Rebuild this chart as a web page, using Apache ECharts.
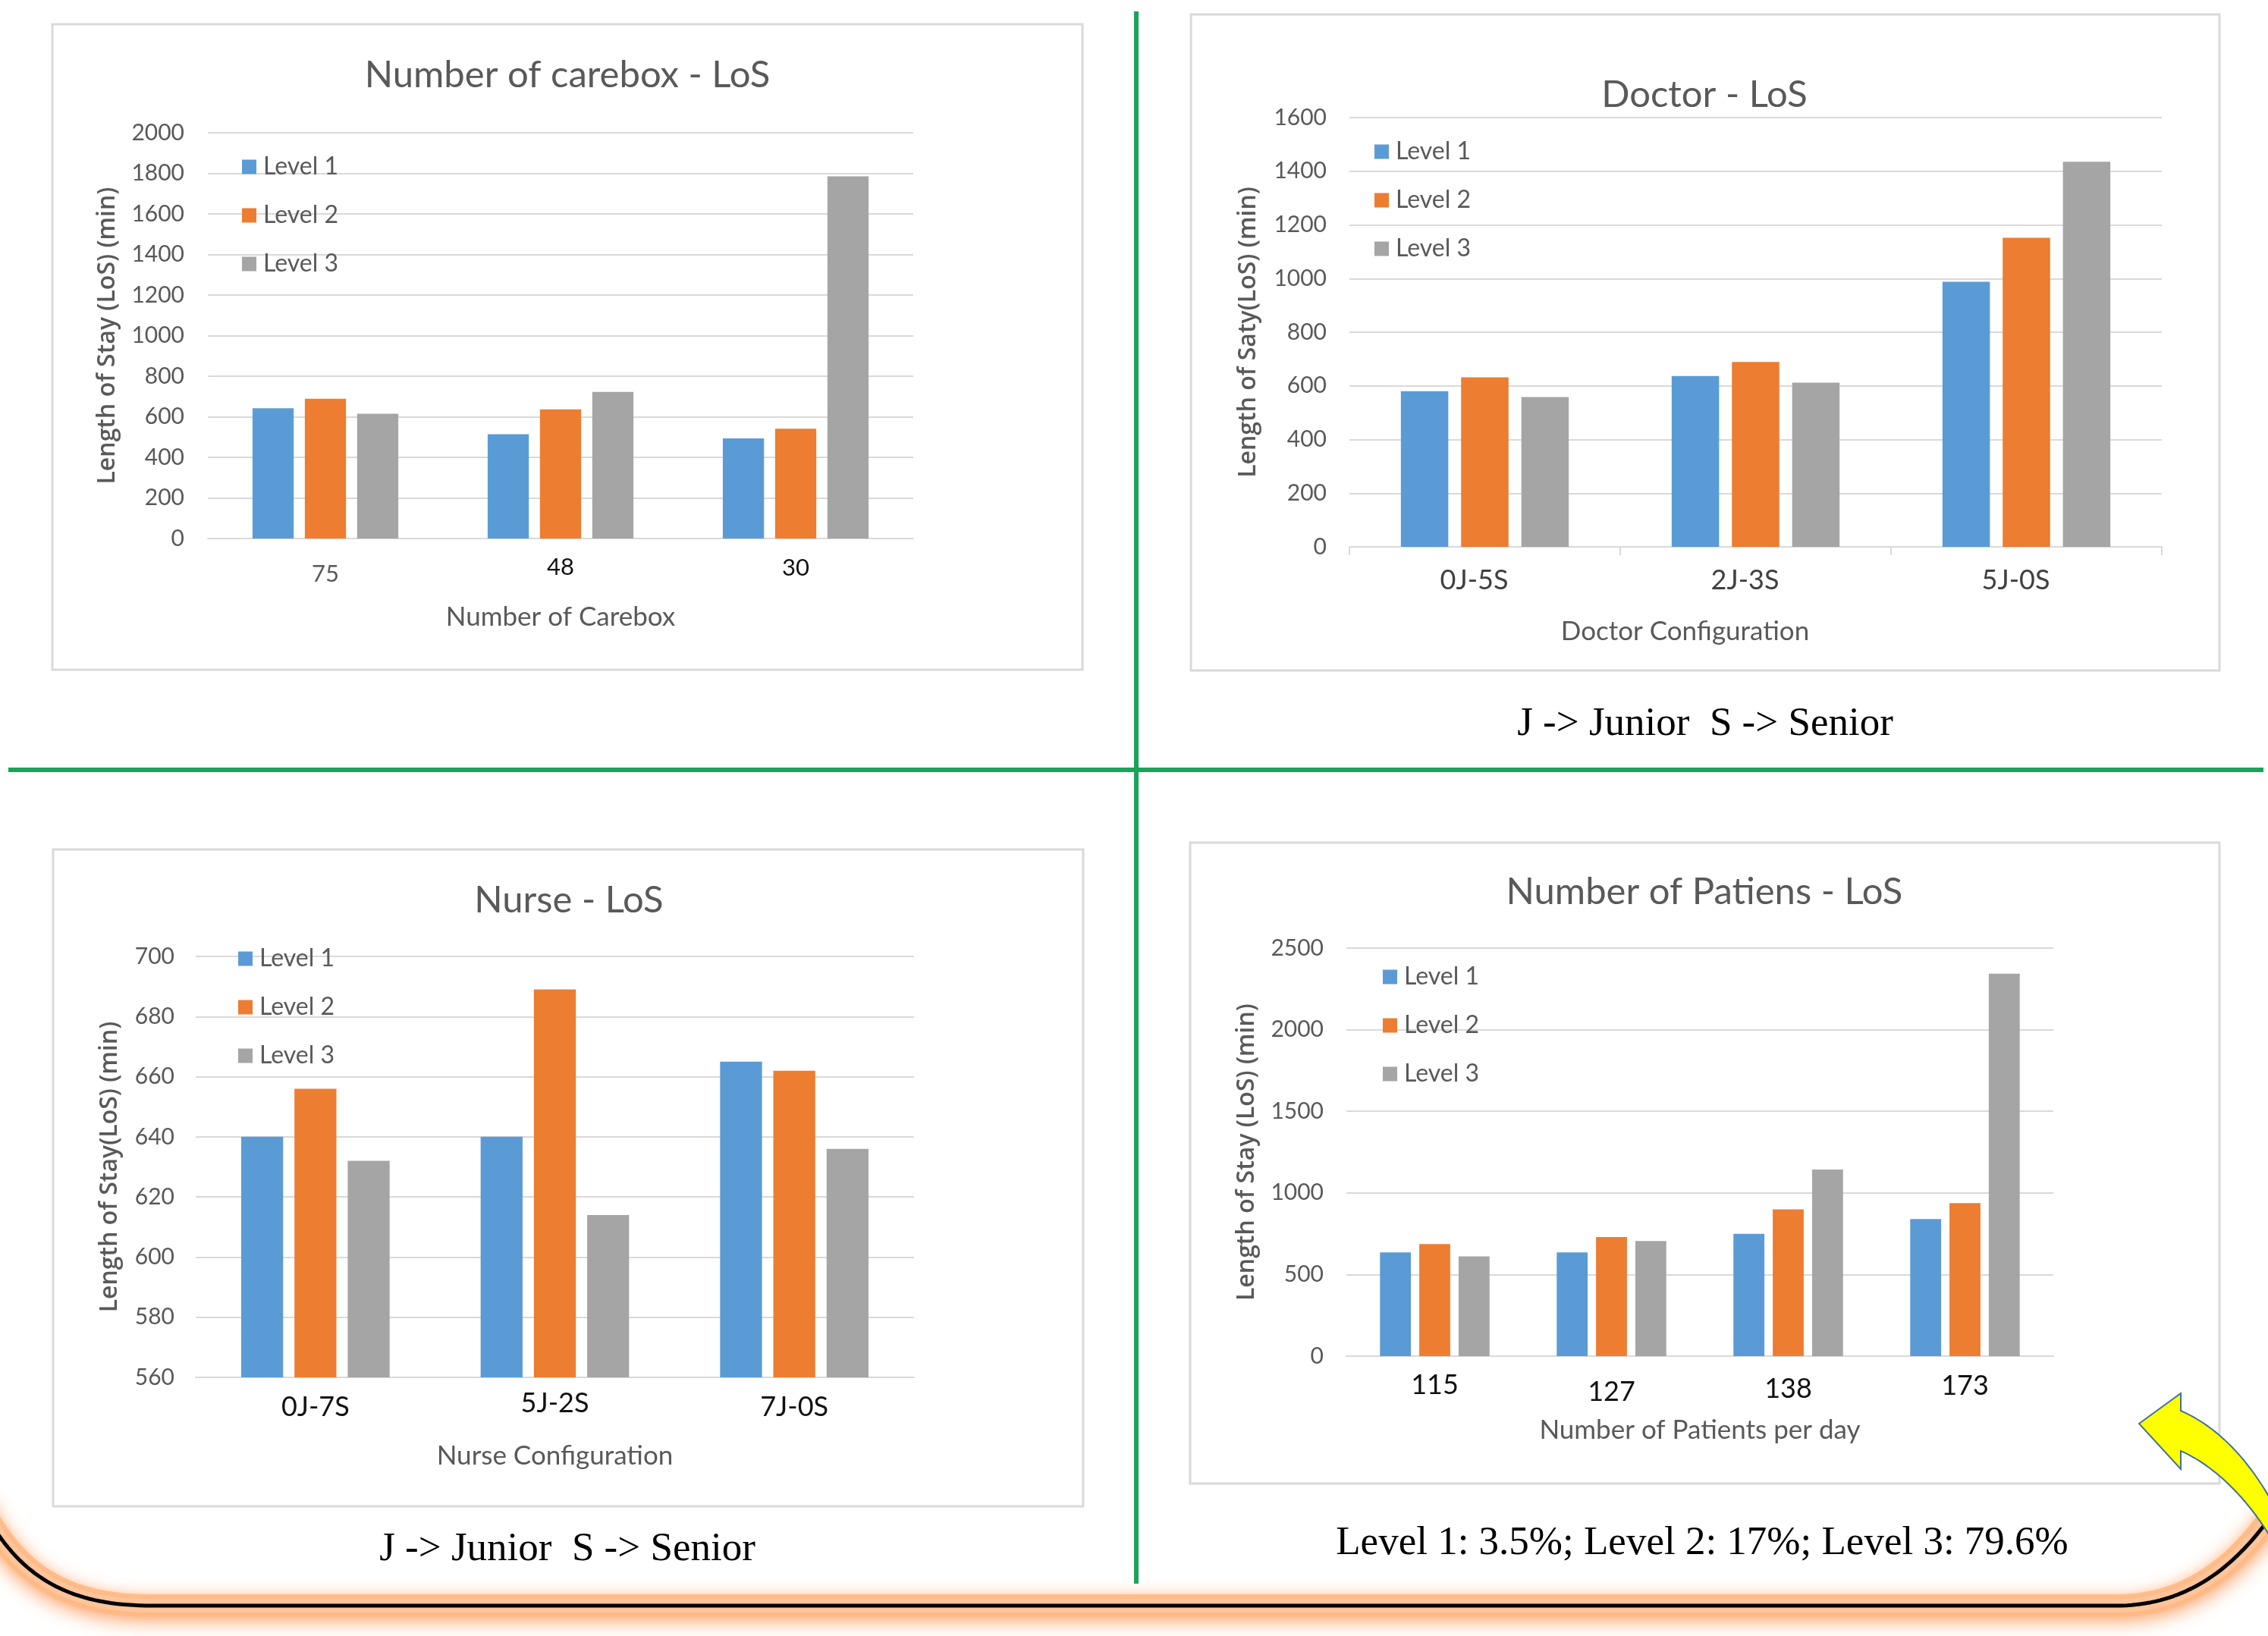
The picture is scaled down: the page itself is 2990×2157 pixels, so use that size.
<!DOCTYPE html>
<html>
<head>
<meta charset="utf-8">
<title>Length of Stay</title>
<script src="https://cdn.jsdelivr.net/npm/echarts@6/dist/echarts.min.js"></script>
<style>
  html, body { margin: 0; padding: 0; background: #ffffff; }
  #chart { width: 2990px; height: 2157px; }
</style>
</head>
<body>
<div id="chart"></div>
<script>
// ---- data -------------------------------------------------------------
const levelNames = ['Level 1', 'Level 2', 'Level 3'];

// Number of carebox vs LoS
const careboxCats = ['75', '48', '30'];
const careboxL1 = [642, 514, 493];
const careboxL2 = [689, 636, 541];
const careboxL3 = [615, 722, 1785];
const careboxTicks = { min: 0, max: 2000, interval: 200 };

// Doctor configuration vs LoS
const doctorCats = ['0J-5S', '2J-3S', '5J-0S'];
const doctorL1 = [580, 637, 988];
const doctorL2 = [632, 689, 1152];
const doctorL3 = [558, 612, 1435];
const doctorTicks = { min: 0, max: 1600, interval: 200 };

// Nurse configuration vs LoS
const nurseCats = ['0J-7S', '5J-2S', '7J-0S'];
const nurseL1 = [640, 640, 665];
const nurseL2 = [656, 689, 662];
const nurseL3 = [632, 614, 636];
const nurseTicks = { min: 560, max: 700, interval: 20 };

// Number of patients per day vs LoS
const patientCats = ['115', '127', '138', '173'];
const patientL1 = [636, 636, 749, 840];
const patientL2 = [686, 730, 899, 937];
const patientL3 = [611, 705, 1143, 2343];
const patientTicks = { min: 0, max: 2500, interval: 500 };

// ---- styling ----------------------------------------------------------
const FONT = 'Lato, "Open Sans", sans-serif';
const NAME_FONT = '"Open Sans", "DejaVu Sans", sans-serif';
const SERIF = '"Liberation Serif", "DejaVu Serif", serif';
const TEXT_GRAY = '#595959';
const GRID_GRAY = '#d9d9d9';
const COLORS = ['#5b9bd5', '#ed7d31', '#a5a5a5'];
const GREEN = '#1ba35a';

const panels = [
  {
    title: 'Number of carebox - LoS', titleX: 748, titleY: 97,
    grid: { left: 274, top: 175, width: 930, height: 535 },
    cats: careboxCats, values: [careboxL1, careboxL2, careboxL3], ticks: careboxTicks,
    labelMargin: 22, labelSize: 31,
    labelPads: [9, 0, 1], labelShift: 0, labelColors: [TEXT_GRAY, '#111111', '#111111'],
    ticksShown: false,
    xName: 'Number of Carebox', xNameGap: 86, xNameShift: 0,
    yName: 'Length of Stay (LoS) (min)', yNameGap: 116, yLabelMargin: 31,
    legend: { left: 319, row: 218 }
  },
  {
    title: 'Doctor - LoS', titleX: 2247, titleY: 123,
    grid: { left: 1779, top: 155, width: 1071, height: 566 },
    cats: doctorCats, values: [doctorL1, doctorL2, doctorL3], ticks: doctorTicks,
    labelMargin: 26, labelSize: 36,
    labelPads: [0, 0, 0], labelShift: 28, labelColors: ['#404040', '#404040', '#404040'],
    ticksShown: true,
    xName: 'Doctor Configuration', xNameGap: 94, xNameShift: 186,
    yName: 'Length of Saty(LoS) (min)', yNameGap: 117, yLabelMargin: 30,
    legend: { left: 1812, row: 198 }
  },
  {
    title: 'Nurse - LoS', titleX: 750, titleY: 1185,
    grid: { left: 258, top: 1261, width: 947, height: 555 },
    cats: nurseCats, values: [nurseL1, nurseL2, nurseL3], ticks: nurseTicks,
    labelMargin: 16, labelSize: 36,
    labelPads: [5, 0, 5], labelShift: 0, labelColors: ['#111111', '#111111', '#111111'],
    ticksShown: false,
    xName: 'Nurse Configuration', xNameGap: 86, xNameShift: 0,
    yName: 'Length of Stay(LoS) (min)', yNameGap: 97, yLabelMargin: 28,
    legend: { left: 314, row: 1262 }
  },
  {
    title: 'Number of Patiens - LoS', titleX: 2247, titleY: 1174,
    grid: { left: 1775, top: 1250, width: 932, height: 538 },
    cats: patientCats, values: [patientL1, patientL2, patientL3], ticks: patientTicks,
    labelMargin: 20, labelSize: 36,
    labelPads: [0, 9, 5, 1], labelShift: 0, labelColors: ['#111111', '#111111', '#111111', '#111111'],
    ticksShown: false,
    xName: 'Number of Patients per day', xNameGap: 80, xNameShift: 0,
    yName: 'Length of Stay (LoS) (min)', yNameGap: 115, yLabelMargin: 30,
    legend: { left: 1823, row: 1286 }
  }
];

// ---- build the four bar charts ----------------------------------------
const option = {
  backgroundColor: '#ffffff',
  animation: false,
  title: [], legend: [], grid: [], xAxis: [], yAxis: [], series: [],
  graphic: []
};

panels.forEach((p, i) => {
  option.title.push({
    text: p.title,
    left: p.titleX, top: p.titleY - 22,
    textAlign: 'center', padding: 0,
    textStyle: { fontFamily: FONT, fontSize: 49, fontWeight: 'normal', color: TEXT_GRAY }
  });

  option.legend.push({
    data: levelNames,
    orient: 'vertical',
    left: p.legend.left, top: p.legend.row - 14,
    padding: 0, itemGap: 32,
    icon: 'rect', itemWidth: 19, itemHeight: 19,
    selectedMode: false,
    textStyle: { fontFamily: FONT, fontSize: 32, color: TEXT_GRAY, padding: [0, 0, 0, 4] }
  });

  option.grid.push(Object.assign({ containLabel: false }, p.grid));

  option.xAxis.push({
    type: 'category', gridIndex: i,
    data: p.cats.map((c, k) => ({
      value: c,
      textStyle: { color: p.labelColors[k], padding: [p.labelPads[k], p.labelShift, 0, 0] }
    })),
    axisLine: { show: true, lineStyle: { color: GRID_GRAY, width: 2 } },
    axisTick: { show: p.ticksShown, length: 11, lineStyle: { color: GRID_GRAY, width: 2 } },
    axisLabel: { fontFamily: FONT, fontSize: p.labelSize, margin: p.labelMargin },
    splitLine: { show: false },
    name: p.xName, nameLocation: 'middle', nameGap: p.xNameGap,
    nameTextStyle: {
      fontFamily: FONT, fontSize: 35, color: TEXT_GRAY,
      padding: [0, p.xNameShift, 0, 0]
    }
  });

  option.yAxis.push({
    type: 'value', gridIndex: i,
    min: p.ticks.min, max: p.ticks.max, interval: p.ticks.interval,
    axisLine: { show: false }, axisTick: { show: false },
    axisLabel: {
      fontFamily: FONT, fontSize: 30, color: TEXT_GRAY, margin: p.yLabelMargin,
      formatter: v => String(v)
    },
    splitLine: { show: true, lineStyle: { color: GRID_GRAY, width: 2 } },
    name: p.yName, nameLocation: 'middle', nameGap: p.yNameGap, nameRotate: 90,
    nameTextStyle: { fontFamily: NAME_FONT, fontSize: 32, fontWeight: 600, color: TEXT_GRAY }
  });

  p.values.forEach((vals, s) => {
    option.series.push({
      type: 'bar', name: levelNames[s],
      xAxisIndex: i, yAxisIndex: i,
      data: vals,
      barGap: '27%', barCategoryGap: '38%',
      itemStyle: { color: COLORS[s] }
    });
  });
});

// ---- panel frames, dividers, captions and the decorative sweep ---------
const frames = [
  [69, 32, 1358, 851],
  [1570, 19, 1356, 865],
  [70, 1120, 1358, 866],
  [1569, 1111, 1357, 845]
];
frames.forEach(f => {
  option.graphic.push({
    type: 'rect', z: -10, silent: true,
    shape: { x: f[0], y: f[1], width: f[2], height: f[3] },
    style: { fill: '#ffffff', stroke: GRID_GRAY, lineWidth: 3 }
  });
});

option.graphic.push(
  { type: 'line', z: 5, silent: true,
    shape: { x1: 1498, y1: 15, x2: 1498, y2: 2088 },
    style: { stroke: GREEN, lineWidth: 6 } },
  { type: 'line', z: 5, silent: true,
    shape: { x1: 11, y1: 1015, x2: 2984, y2: 1015 },
    style: { stroke: GREEN, lineWidth: 6 } }
);

const captions = [
  ['J -> Junior  S -> Senior', 2248, 955],
  ['J -> Junior  S -> Senior', 748, 2043],
  ['Level 1: 3.5%; Level 2: 17%; Level 3: 79.6%', 2244, 2035]
];
captions.forEach(c => {
  option.graphic.push({
    type: 'text', z: 6, silent: true,
    style: {
      text: c[0], x: c[1], y: c[2],
      align: 'center', verticalAlign: 'middle',
      textAlign: 'center', textVerticalAlign: 'middle',
      fontFamily: SERIF, fontSize: 53, fill: '#000000'
    }
  });
});

// sample a cubic Bezier into polyline points
function cubic(p0, p1, p2, p3, n) {
  const pts = [];
  for (let k = 0; k <= n; k++) {
    const t = k / n, u = 1 - t;
    pts.push([
      u * u * u * p0[0] + 3 * u * u * t * p1[0] + 3 * u * t * t * p2[0] + t * t * t * p3[0],
      u * u * u * p0[1] + 3 * u * u * t * p1[1] + 3 * u * t * t * p2[1] + t * t * t * p3[1]
    ]);
  }
  return pts;
}

// rounded bracket along the bottom with a soft orange glow
const sweepPts = []
  .concat(cubic([-30, 1975], [20, 2080], [90, 2117], [200, 2117], 40))
  .concat(cubic([2790, 2117], [2880, 2117], [2950, 2070], [3010, 1975], 40));
option.graphic.push(
  { type: 'polyline', z: 2, silent: true,
    shape: { points: sweepPts },
    style: { fill: null, stroke: 'rgba(255,190,140,0.9)', lineWidth: 30, lineJoin: 'round',
             shadowBlur: 24, shadowColor: 'rgba(255,160,100,1)', shadowOffsetY: 6 } },
  { type: 'polyline', z: 3, silent: true,
    shape: { points: sweepPts },
    style: { fill: null, stroke: 'rgba(255,200,160,0.8)', lineWidth: 18, lineJoin: 'round',
             shadowBlur: 12, shadowColor: 'rgba(255,170,110,0.9)', shadowOffsetY: 0 } },
  { type: 'polyline', z: 4, silent: true,
    shape: { points: sweepPts },
    style: { fill: null, stroke: '#000000', lineWidth: 5, lineJoin: 'round' } }
);

// curved yellow arrow pointing back at the patients chart
const arrowPts = [[2820, 1877], [2875, 1837]]
  .concat(cubic([2875, 1860], [2925, 1882], [2965, 1925], [2998, 1985], 24))
  .concat(cubic([2998, 2035], [2970, 1985], [2925, 1935], [2875, 1913], 24))
  .concat([[2875, 1937]]);
option.graphic.push({
  type: 'polygon', z: 7, silent: true,
  shape: { points: arrowPts },
  style: { fill: '#ffff00', stroke: '#41719c', lineWidth: 2 }
});

const chart = echarts.init(document.getElementById('chart'), null, { renderer: 'canvas' });
chart.setOption(option);
</script>
</body>
</html>
